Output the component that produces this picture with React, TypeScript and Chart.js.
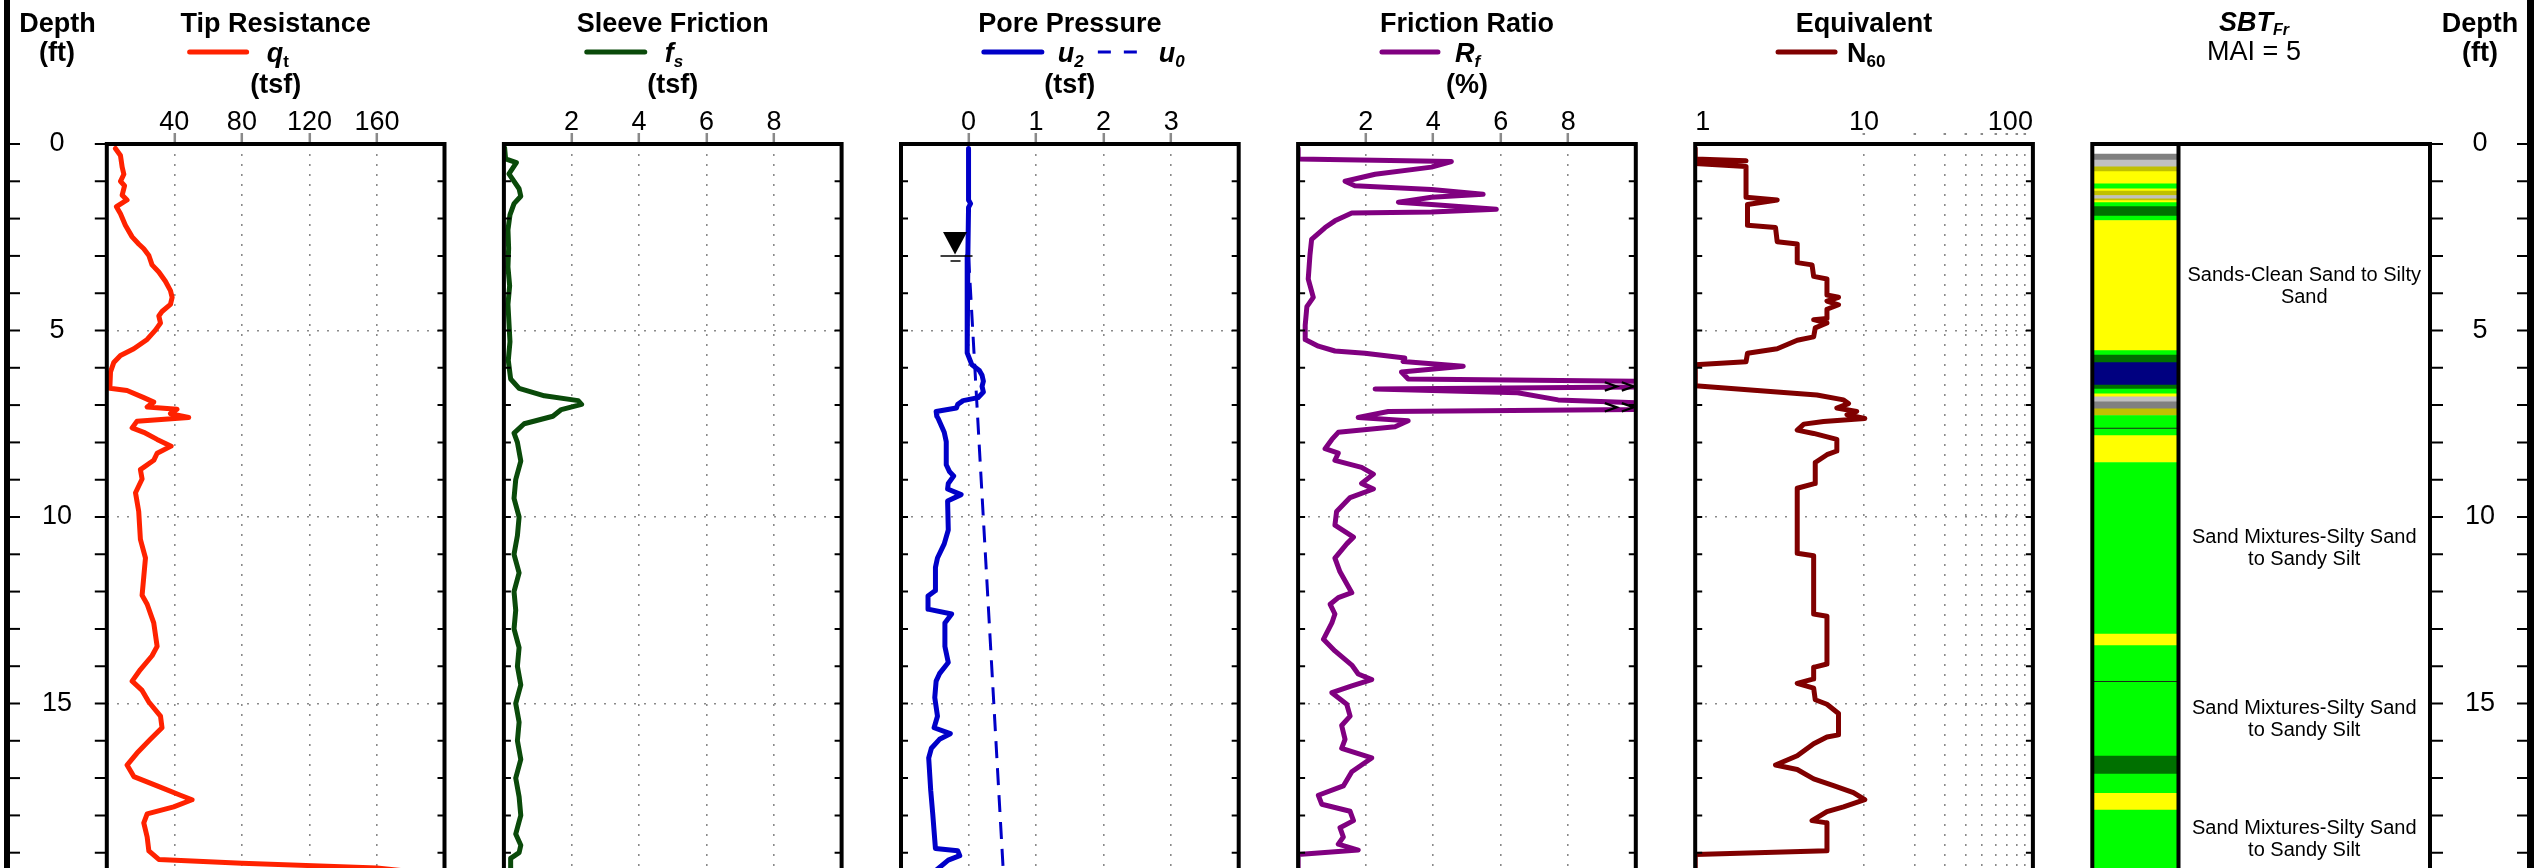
import React, { useEffect, useRef } from 'react';
import { Chart, registerables } from 'chart.js';

Chart.register(...registerables);

// ---------------- data: [depth (ft), value] ----------------
const depthLabels = [0, 5, 10, 15];
const depthGrid = [5, 10, 15];

const qtProfile: [number, number][] = [
  [0.12, 5.1], [0.31, 8.1], [0.62, 9.1], [0.81, 10.1], [1.0, 8.1], [1.12, 10.5], [1.37, 9.1], [1.5, 12.0],
  [1.68, 5.7], [1.87, 8.1], [2.18, 11.0], [2.49, 15.0], [2.68, 18.9], [2.81, 21.9], [2.99, 24.9], [3.24, 26.8],
  [3.43, 30.8], [3.68, 34.7], [3.93, 37.7], [4.11, 38.7], [4.3, 37.7], [4.49, 32.7], [4.61, 30.8], [4.8, 31.8],
  [4.99, 28.8], [5.24, 23.9], [5.49, 16.0], [5.67, 8.1], [5.86, 4.1], [6.11, 2.2], [6.55, 1.8], [6.61, 12.0],
  [6.8, 21.9], [6.92, 27.8], [7.05, 23.9], [7.11, 41.6], [7.23, 37.7], [7.33, 48.5], [7.43, 17.9], [7.61, 15.0],
  [7.73, 21.9], [7.92, 29.8], [8.1, 38.1], [8.29, 29.8], [8.48, 27.8], [8.73, 19.9], [8.98, 20.9], [9.35, 17.0],
  [9.85, 18.9], [10.6, 19.9], [11.1, 22.9], [11.6, 21.9], [12.1, 20.9], [12.34, 23.9], [12.84, 27.8], [13.47, 29.8],
  [13.72, 26.8], [14.09, 19.9], [14.4, 15.0], [14.65, 20.9], [14.96, 24.9], [15.34, 31.8], [15.65, 32.7], [15.96, 25.8],
  [16.33, 17.9], [16.65, 12.0], [16.96, 16.0], [17.21, 29.8], [17.46, 43.6], [17.58, 50.5], [17.77, 39.6], [17.96, 23.9],
  [18.2, 21.9], [18.58, 23.9], [18.95, 24.9], [19.18, 30.8], [19.28, 80], [19.41, 160], [19.6, 200],
];

const fsProfile: [number, number][] = [
  [0.1, 0.02], [0.4, 0.05], [0.5, 0.37], [0.8, 0.15], [1.2, 0.45], [1.4, 0.5], [1.6, 0.3], [1.9, 0.18],
  [2.3, 0.12], [2.8, 0.14], [3.3, 0.12], [3.8, 0.17], [4.3, 0.12], [4.8, 0.15], [5.3, 0.18], [5.8, 0.13],
  [6.3, 0.2], [6.55, 0.45], [6.75, 1.2], [6.88, 2.2], [6.98, 2.3], [7.12, 1.7], [7.3, 1.45], [7.5, 0.6],
  [7.75, 0.3], [8.0, 0.4], [8.5, 0.5], [9.0, 0.35], [9.5, 0.3], [10.0, 0.45], [10.5, 0.4], [11.0, 0.3],
  [11.5, 0.45], [12.0, 0.3], [12.5, 0.35], [13.0, 0.3], [13.5, 0.45], [14.0, 0.4], [14.5, 0.5], [15.0, 0.35],
  [15.5, 0.45], [16.0, 0.4], [16.5, 0.5], [17.0, 0.35], [17.5, 0.45], [18.0, 0.5], [18.5, 0.35], [18.8, 0.5],
  [19.0, 0.45], [19.15, 0.2], [19.5, 0.2],
];

const u2Profile: [number, number][] = [
  [0.12, 0], [1.5, 0.0], [1.6, 0.03], [1.7, 0.0], [3.0, -0.01], [5.0, -0.02], [5.6, -0.02], [5.92, 0.05],
  [6.07, 0.16], [6.2, 0.2], [6.36, 0.22], [6.5, 0.2], [6.65, 0.22], [6.8, 0.14], [6.88, -0.08], [6.98, -0.16],
  [7.08, -0.18], [7.17, -0.48], [7.3, -0.47], [7.36, -0.45], [7.73, -0.36], [7.98, -0.33], [8.6, -0.33], [8.79, -0.28],
  [8.9, -0.22], [9.1, -0.3], [9.25, -0.31], [9.4, -0.11], [9.57, -0.31], [10.35, -0.3], [10.72, -0.36], [11.1, -0.46],
  [11.35, -0.49], [11.97, -0.49], [12.12, -0.6], [12.47, -0.6], [12.6, -0.25], [12.84, -0.35], [13.47, -0.35], [13.9, -0.3],
  [14.2, -0.43], [14.4, -0.48], [14.84, -0.5], [15.34, -0.46], [15.65, -0.51], [15.81, -0.27], [15.96, -0.43], [16.2, -0.55],
  [16.46, -0.59], [17.33, -0.56], [17.96, -0.53], [18.89, -0.49], [18.95, -0.16], [19.08, -0.13], [19.2, -0.3], [19.5, -0.5],
];

const u0Profile: [number, number][] = [[3.0, 0], [20, 0.53]];

const rfProfile: [number, number][] = [
  [0.12, 0], [0.4, 0], [0.47, 4.54], [0.62, 3.95], [0.81, 2.28], [1.0, 1.39], [1.12, 1.68], [1.22, 3.95],
  [1.35, 5.48], [1.43, 3.95], [1.56, 2.97], [1.62, 3.95], [1.75, 5.87], [1.82, 3.95], [1.85, 1.59], [2.06, 1.09],
  [2.24, 0.8], [2.56, 0.4], [2.99, 0.35], [3.62, 0.3], [4.11, 0.45], [4.36, 0.26], [4.86, 0.21], [5.24, 0.21],
  [5.42, 0.6], [5.55, 1.09], [5.61, 1.98], [5.74, 3.16], [5.83, 3.11], [5.96, 4.89], [6.11, 3.06], [6.3, 3.26],
  [6.38, 12], [6.5, 12], [6.57, 2.28], [6.67, 6.5], [6.86, 7.7], [7.0, 12], [7.1, 12], [7.17, 2.67],
  [7.33, 1.78], [7.42, 3.26], [7.58, 2.87], [7.73, 1.19], [7.92, 1.0], [8.17, 0.8], [8.29, 1.19], [8.48, 1.09],
  [8.67, 1.88], [8.85, 2.23], [9.1, 1.88], [9.25, 2.23], [9.48, 1.54], [9.85, 1.14], [10.22, 1.09], [10.54, 1.64],
  [10.72, 1.44], [11.1, 1.09], [11.47, 1.24], [12.03, 1.59], [12.16, 1.19], [12.34, 0.95], [12.6, 1.09], [12.84, 1.0],
  [13.28, 0.75], [13.59, 1.09], [13.97, 1.59], [14.21, 1.78], [14.36, 2.18], [14.53, 1.59], [14.71, 1.0], [15.02, 1.44],
  [15.34, 1.54], [15.59, 1.29], [15.96, 1.39], [16.2, 1.29], [16.46, 2.18], [16.83, 1.59], [17.21, 1.34], [17.46, 0.6],
  [17.7, 0.7], [17.89, 1.54], [18.14, 1.64], [18.33, 1.24], [18.58, 1.34], [18.77, 1.19], [18.93, 1.78], [19.05, 0],
  [19.5, 0],
];

const n60Profile: [number, number][] = [
  [0.12, 1], [0.4, 1], [0.45, 2.0], [0.52, 1], [0.6, 2.0], [1.43, 2.0], [1.5, 3.06], [1.62, 2.04],
  [2.18, 2.04], [2.24, 2.99], [2.62, 3.06], [2.68, 4.02], [3.18, 4.02], [3.24, 4.92], [3.55, 5.03], [3.62, 6.03],
  [4.05, 6.03], [4.11, 7.06], [4.21, 6.03], [4.31, 7.06], [4.43, 6.03], [4.68, 6.03], [4.71, 5.03], [4.8, 6.03],
  [4.93, 5.14], [5.17, 5.03], [5.26, 4.02], [5.49, 3.06], [5.61, 2.04], [5.84, 2.0], [5.92, 1], [6.48, 1],
  [6.61, 2.33], [6.73, 5.26], [6.86, 7.56], [6.96, 8.09], [7.08, 6.9], [7.17, 9.05], [7.26, 7.92], [7.36, 10.1],
  [7.44, 5.76], [7.51, 4.4], [7.67, 4.02], [7.76, 5.03], [7.92, 6.9], [8.23, 6.9], [8.33, 6.03], [8.54, 5.14],
  [9.1, 5.14], [9.23, 4.02], [10.97, 4.02], [11.04, 5.03], [12.6, 5.03], [12.66, 6.03], [13.94, 6.03], [14.03, 5.03],
  [14.34, 5.03], [14.46, 4.02], [14.59, 5.03], [14.9, 5.14], [15.02, 6.03], [15.27, 7.06], [15.84, 7.06], [15.9, 6.03],
  [16.08, 5.03], [16.4, 4.02], [16.65, 2.99], [16.77, 4.02], [17.02, 5.03], [17.2, 6.6], [17.39, 8.65], [17.58, 10.1],
  [17.77, 7.56], [17.9, 6.03], [18.14, 4.92], [18.2, 6.03], [18.95, 6.03], [19.05, 1], [19.5, 1],
];

const waterTableDepth = 3.0;
const waterTableMarkerU = -0.2;
const rfOffScaleDepths = [6.5, 7.06];

const qtTicks = [0, 40, 80, 120, 160, 200];
const qtTickLabels = [40, 80, 120, 160];
const fsTicks = [0, 2, 4, 6, 8, 10];
const fsTickLabels = [2, 4, 6, 8];
const uTicks = [-1, 0, 1, 2, 3, 4];
const uTickLabels = [0, 1, 2, 3];
const rfTicks = [0, 2, 4, 6, 8, 10];
const rfTickLabels = [2, 4, 6, 8];
const n60Ticks = [1, 10, 20, 30, 40, 50, 60, 70, 80, 90, 100];
const n60TickLabels = [1, 10, 100];
const n60Grid = [10, 20, 30, 40, 50, 60, 70, 80, 90];

// SBT layers: [top, bottom, zone]
const sbtLayers: [number, number, string][] = [
  [0.27, 0.43, 'gray'], [0.43, 0.61, 'lightgray'], [0.61, 0.74, 'olive'], [0.74, 1.07, 'yellow'],
  [1.07, 1.2, 'lime'], [1.2, 1.26, 'yellow'], [1.26, 1.38, 'olive'], [1.38, 1.47, 'lightgray'],
  [1.47, 1.52, 'olive'], [1.52, 1.57, 'yellow'], [1.57, 1.68, 'lime'], [1.68, 1.93, 'darkgreen'],
  [1.93, 2.05, 'lime'], [2.05, 5.54, 'yellow'], [5.54, 5.66, 'lime'], [5.66, 5.86, 'darkgreen'],
  [5.86, 6.46, 'navy'], [6.46, 6.57, 'darkgreen'], [6.57, 6.7, 'lime'], [6.7, 6.78, 'yellow'],
  [6.78, 6.91, 'lightgray'], [6.91, 7.1, 'gray'], [7.1, 7.28, 'olive'], [7.28, 7.82, 'lime'],
  [7.82, 8.54, 'yellow'], [8.54, 13.14, 'lime'], [13.14, 13.45, 'yellow'], [13.45, 16.41, 'lime'],
  [16.41, 16.89, 'darkgreen'], [16.89, 17.41, 'lime'], [17.41, 17.86, 'yellow'], [17.86, 19.6, 'lime'],
];
const sbtBreaks = [7.62, 14.41];
const sbtLabelDepths = [3.83, 10.85, 15.43, 18.65];
const sbtLabelLines = [
  ['Sands-Clean Sand to Silty', 'Sand'],
  ['Sand Mixtures-Silty Sand', 'to Sandy Silt'],
  ['Sand Mixtures-Silty Sand', 'to Sandy Silt'],
  ['Sand Mixtures-Silty Sand', 'to Sandy Silt'],
];
const zoneColors: Record<string, string> = {
  gray: '#808080', lightgray: '#c0c0c0', olive: '#c0c000', yellow: '#ffff00',
  lime: '#00ff00', darkgreen: '#007000', navy: '#000080',
};

// ---------------- layout / style ----------------
const W = 2534;
const H = 868;
const TOP = 144;
const PX_PER_FT = 37.3;
const DEPTH_MAX = (H - TOP) / PX_PER_FT;
const PANEL_X0 = 106.8;
const PANEL_STEP = 397.1;
const PANEL_W = 337.7;
const SBT_COL_RIGHT = 2178.5;
const FONT = '"Liberation Sans", Arial, Helvetica, sans-serif';
const GRID = '#8a8a8a';
const NONE = 'rgba(0,0,0,0)';
const TITLE_SIZE = 27;
const SUB_SIZE = 17;
const TICK_SIZE = 27;
const LINE_W = 5;
const BOX_W = 4;

Chart.defaults.font.family = FONT;

const panelLeft = (i: number) => PANEL_X0 + i * PANEL_STEP;

type Part = { t: string; size: number; bold?: boolean; italic?: boolean; dy?: number };
const fontOf = (p: Part) => `${p.italic ? 'italic ' : ''}${p.bold ? 'bold ' : ''}${p.size}px ${FONT}`;

function drawRich(ctx: CanvasRenderingContext2D, x: number, y: number, parts: Part[], align: 'left' | 'center') {
  ctx.save();
  ctx.textAlign = 'left';
  ctx.textBaseline = 'alphabetic';
  ctx.fillStyle = '#000';
  const widths = parts.map((p) => {
    ctx.font = fontOf(p);
    return ctx.measureText(p.t).width;
  });
  const total = widths.reduce((s, w) => s + w, 0);
  let cx = align === 'center' ? x - total / 2 : x;
  parts.forEach((p, i) => {
    ctx.font = fontOf(p);
    ctx.fillText(p.t, cx, y + (p.dy || 0));
    cx += widths[i];
  });
  ctx.restore();
}

const B = (t: string): Part => ({ t, size: TITLE_SIZE, bold: true });
const BI = (t: string): Part => ({ t, size: TITLE_SIZE, bold: true, italic: true });
const SUB = (t: string, italic = true): Part => ({ t, size: SUB_SIZE, bold: true, italic, dy: 5 });

type LegendItem = { color: string; dash?: number[]; width?: number; x0: number; x1: number; labelX: number; label: Part[] };
type Series = { pts: [number, number][]; color: string; width: number; dash?: number[] };
type PanelSpec = {
  title: string;
  unit?: string;
  legend: LegendItem[];
  log?: boolean;
  xMin: number;
  xMax: number;
  ticks: number[];
  labels: number[];
  grid: number[];
  series: Series[];
  outerLeft?: boolean;
  extra?: (chart: any) => void;
};

const QT_C = '#ff2200';
const FS_C = '#0a4a0a';
const U_C = '#0000c8';
const RF_C = '#800080';
const N_C = '#800000';

function drawLeftAxis(chart: any) {
  const { ctx } = chart;
  const ys = chart.scales.y;
  ctx.save();
  ctx.fillStyle = '#000';
  ctx.fillRect(4, 0, 6, H);
  ctx.strokeStyle = '#000';
  ctx.lineWidth = 2;
  for (let d = 0; d <= DEPTH_MAX; d++) {
    const y = ys.getPixelForValue(d);
    ctx.beginPath();
    ctx.moveTo(10, y);
    ctx.lineTo(20, y);
    ctx.stroke();
  }
  ctx.font = `${TICK_SIZE}px ${FONT}`;
  ctx.textAlign = 'center';
  ctx.textBaseline = 'middle';
  depthLabels.forEach((d) => ctx.fillText(String(d), 57, ys.getPixelForValue(d)));
  ctx.restore();
  drawRich(ctx, 57.5, 32, [B('Depth')], 'center');
  drawRich(ctx, 57, 61, [B('(ft)')], 'center');
}

function drawWaterTable(chart: any) {
  const { ctx } = chart;
  const x = chart.scales.x.getPixelForValue(waterTableMarkerU);
  const y = chart.scales.y.getPixelForValue(waterTableDepth);
  ctx.save();
  ctx.fillStyle = '#000';
  ctx.beginPath();
  ctx.moveTo(x - 12, y - 24);
  ctx.lineTo(x + 12, y - 24);
  ctx.lineTo(x, y - 1.5);
  ctx.closePath();
  ctx.fill();
  ctx.strokeStyle = '#000';
  ctx.lineWidth = 1.5;
  ctx.beginPath();
  ctx.moveTo(x - 14.5, y);
  ctx.lineTo(x + 17.5, y);
  ctx.moveTo(x - 4.5, y + 5);
  ctx.lineTo(x + 5.5, y + 5);
  ctx.stroke();
  ctx.restore();
}

function drawOffScale(chart: any) {
  const { ctx, chartArea: a } = chart;
  ctx.save();
  ctx.strokeStyle = '#000';
  ctx.lineWidth = 2.2;
  rfOffScaleDepths.forEach((d) => {
    const y = chart.scales.y.getPixelForValue(d);
    [31, 14].forEach((off) => {
      const x0 = a.right - off;
      ctx.beginPath();
      ctx.moveTo(x0, y - 4.2);
      ctx.lineTo(x0 + 12, y);
      ctx.lineTo(x0, y + 4.2);
      ctx.stroke();
    });
  });
  ctx.restore();
}

const panelSpecs: PanelSpec[] = [
  {
    title: 'Tip Resistance', unit: '(tsf)',
    legend: [{ color: QT_C, x0: -86, x1: -29, labelX: -9, label: [BI('q'), SUB('t', false)] }],
    xMin: 0, xMax: 200, ticks: qtTicks, labels: qtTickLabels, grid: qtTickLabels,
    series: [{ pts: qtProfile, color: QT_C, width: LINE_W }],
    outerLeft: true, extra: drawLeftAxis,
  },
  {
    title: 'Sleeve Friction', unit: '(tsf)',
    legend: [{ color: FS_C, x0: -86, x1: -28, labelX: -8, label: [BI('f'), SUB('s')] }],
    xMin: 0, xMax: 10, ticks: fsTicks, labels: fsTickLabels, grid: fsTickLabels,
    series: [{ pts: fsProfile, color: FS_C, width: LINE_W }],
  },
  {
    title: 'Pore Pressure', unit: '(tsf)',
    legend: [
      { color: U_C, x0: -86, x1: -28, labelX: -12, label: [BI('u'), SUB('2')] },
      { color: U_C, dash: [13, 13], width: 3, x0: 28, x1: 80, labelX: 89, label: [BI('u'), SUB('0')] },
    ],
    xMin: -1, xMax: 4, ticks: uTicks, labels: uTickLabels, grid: uTickLabels,
    series: [
      { pts: u2Profile, color: U_C, width: LINE_W },
      { pts: u0Profile, color: U_C, width: 3, dash: [17, 10] },
    ],
    extra: drawWaterTable,
  },
  {
    title: 'Friction Ratio', unit: '(%)',
    legend: [{ color: RF_C, x0: -85, x1: -29, labelX: -12, label: [BI('R'), SUB('f')] }],
    xMin: 0, xMax: 10, ticks: rfTicks, labels: rfTickLabels, grid: rfTickLabels,
    series: [{ pts: rfProfile, color: RF_C, width: LINE_W }],
    extra: drawOffScale,
  },
  {
    title: 'Equivalent',
    legend: [{ color: N_C, x0: -86, x1: -29, labelX: -17, label: [B('N'), SUB('60', false)] }],
    log: true, xMin: 1, xMax: 100, ticks: n60Ticks, labels: n60TickLabels, grid: n60Grid,
    series: [{ pts: n60Profile, color: N_C, width: LINE_W }],
  },
];

function drawHeader(ctx: CanvasRenderingContext2D, cx: number, spec: PanelSpec) {
  drawRich(ctx, cx, 32, [B(spec.title)], 'center');
  spec.legend.forEach((it) => {
    ctx.save();
    ctx.strokeStyle = it.color;
    ctx.lineWidth = it.width || 5;
    ctx.lineCap = it.dash ? 'butt' : 'round';
    ctx.setLineDash(it.dash || []);
    ctx.beginPath();
    ctx.moveTo(cx + it.x0, 52);
    ctx.lineTo(cx + it.x1, 52);
    ctx.stroke();
    ctx.restore();
    drawRich(ctx, cx + it.labelX, 62, it.label, 'left');
  });
  if (spec.unit) drawRich(ctx, cx, 93, [B(spec.unit)], 'center');
}

function makePanelPlugin(i: number, spec: PanelSpec) {
  return {
    id: 'panelDecor' + i,
    afterDraw(chart: any) {
      const { ctx, chartArea: a } = chart;
      const ys = chart.scales.y;
      ctx.save();
      ctx.strokeStyle = '#000';
      ctx.lineWidth = 2;
      for (let d = 0; d <= DEPTH_MAX; d++) {
        const y = ys.getPixelForValue(d);
        ctx.beginPath();
        if (spec.outerLeft) {
          ctx.moveTo(a.left - 12, y);
          ctx.lineTo(a.left, y);
        } else {
          ctx.moveTo(a.left, y);
          ctx.lineTo(a.left + 7, y);
        }
        ctx.moveTo(a.right - 7, y);
        ctx.lineTo(a.right, y);
        ctx.stroke();
      }
      ctx.lineWidth = BOX_W;
      ctx.beginPath();
      ctx.moveTo(a.left, H + 10);
      ctx.lineTo(a.left, a.top);
      ctx.lineTo(a.right, a.top);
      ctx.lineTo(a.right, H + 10);
      ctx.stroke();
      ctx.restore();
      if (spec.extra) spec.extra(chart);
      drawHeader(ctx, (a.left + a.right) / 2, spec);
    },
  };
}

function lineConfig(i: number, spec: PanelSpec): any {
  const left = panelLeft(i);
  const right = left + PANEL_W;
  const gridColor = (c: any) => (c && c.tick && spec.grid.includes(c.tick.value) ? GRID : NONE);
  return {
    type: 'line',
    data: {
      datasets: spec.series.map((s) => ({
        data: s.pts.map(([d, v]) => ({ x: v, y: d })),
        borderColor: s.color,
        borderWidth: s.width,
        borderDash: s.dash || [],
        pointRadius: 0,
        tension: 0,
        fill: false,
        borderCapStyle: s.dash ? 'butt' : 'round',
        borderJoinStyle: 'round',
      })),
    },
    options: {
      responsive: false,
      animation: false,
      events: [],
      layout: { padding: { left, right: W - right, top: 0, bottom: 0 } },
      plugins: { legend: { display: false }, tooltip: { enabled: false }, title: { display: false } },
      scales: {
        x: {
          type: spec.log ? 'logarithmic' : 'linear',
          position: 'top',
          min: spec.xMin,
          max: spec.xMax,
          afterBuildTicks: (s: any) => {
            s.ticks = spec.ticks.map((v) => ({ value: v }));
          },
          afterFit: (s: any) => {
            s.height = TOP;
          },
          ticks: {
            autoSkip: false,
            maxRotation: 0,
            minRotation: 0,
            padding: -6,
            color: '#000',
            font: { family: FONT, size: TICK_SIZE },
            align: spec.log ? 'inner' : 'center',
            callback: (v: any) => (spec.labels.includes(Number(v)) ? String(v) : ''),
          },
          grid: {
            color: gridColor,
            tickColor: gridColor,
            lineWidth: 1.6,
            tickWidth: 2.5,
            tickLength: 11,
            tickBorderDash: spec.log ? [2, 8] : [],
          },
          border: { display: false, dash: [2, 8] },
        },
        y: {
          type: 'linear',
          reverse: true,
          min: 0,
          max: DEPTH_MAX,
          afterBuildTicks: (s: any) => {
            s.ticks = depthGrid.map((v) => ({ value: v }));
          },
          afterFit: (s: any) => {
            s.width = 0;
          },
          ticks: { display: false },
          grid: { color: GRID, lineWidth: 1.6, drawTicks: false },
          border: { display: false, dash: [2, 8] },
        },
      },
    },
    plugins: [makePanelPlugin(i, spec)],
  };
}

const sbtPlugin = {
  id: 'sbtDecor',
  afterDraw(chart: any) {
    const { ctx, chartArea: a } = chart;
    const ys = chart.scales.y;
    const boxRight = panelLeft(5) + PANEL_W;
    ctx.save();
    ctx.strokeStyle = '#1a2a1a';
    ctx.lineWidth = 1.2;
    sbtBreaks.forEach((d) => {
      const y = ys.getPixelForValue(d);
      ctx.beginPath();
      ctx.moveTo(a.left, y);
      ctx.lineTo(a.right, y);
      ctx.stroke();
    });
    ctx.fillStyle = '#000';
    ctx.font = `20px ${FONT}`;
    ctx.textAlign = 'center';
    ctx.textBaseline = 'middle';
    const lx = (a.right + boxRight) / 2;
    sbtLabelDepths.forEach((d, i) => {
      const y = ys.getPixelForValue(d);
      const lines = sbtLabelLines[i];
      lines.forEach((t, k) => ctx.fillText(t, lx, y + (k - (lines.length - 1) / 2) * 22));
    });
    ctx.strokeStyle = '#000';
    ctx.lineWidth = BOX_W;
    ctx.beginPath();
    ctx.moveTo(a.left, H + 10);
    ctx.lineTo(a.left, a.top);
    ctx.lineTo(boxRight, a.top);
    ctx.lineTo(boxRight, H + 10);
    ctx.moveTo(a.right, a.top);
    ctx.lineTo(a.right, H + 10);
    ctx.stroke();
    // right depth axis
    ctx.fillRect(2527, 0, 7, H);
    ctx.lineWidth = 2;
    for (let d = 0; d <= DEPTH_MAX; d++) {
      const y = ys.getPixelForValue(d);
      ctx.beginPath();
      ctx.moveTo(boxRight, y);
      ctx.lineTo(boxRight + 13, y);
      ctx.moveTo(2517, y);
      ctx.lineTo(2527, y);
      ctx.stroke();
    }
    ctx.font = `${TICK_SIZE}px ${FONT}`;
    depthLabels.forEach((d) => ctx.fillText(String(d), 2480, ys.getPixelForValue(d)));
    ctx.restore();
    drawRich(ctx, 2480, 32, [B('Depth')], 'center');
    drawRich(ctx, 2480, 61, [B('(ft)')], 'center');
    drawRich(ctx, 2254, 31, [BI('SBT'), { t: 'Fr', size: 16, bold: true, italic: true, dy: 4 }], 'center');
    drawRich(ctx, 2254, 60, [{ t: 'MAI = 5', size: TITLE_SIZE }], 'center');
  },
};

function sbtConfig(): any {
  return {
    type: 'bar',
    data: {
      labels: ['SBT'],
      datasets: [
        {
          data: sbtLayers.map(([t, b]) => ({ x: 'SBT', y: [t, b] })),
          backgroundColor: sbtLayers.map((l) => zoneColors[l[2]]),
          borderWidth: 0,
          barPercentage: 1,
          categoryPercentage: 1,
        },
      ],
    },
    options: {
      responsive: false,
      animation: false,
      events: [],
      layout: { padding: { left: panelLeft(5), right: W - SBT_COL_RIGHT, top: TOP, bottom: 0 } },
      plugins: { legend: { display: false }, tooltip: { enabled: false } },
      scales: {
        x: { display: false },
        y: { display: false, reverse: true, min: 0, max: DEPTH_MAX },
      },
    },
    plugins: [sbtPlugin],
  };
}

function ChartCanvas({ make }: { make: () => any }) {
  const ref = useRef<HTMLCanvasElement | null>(null);
  useEffect(() => {
    if (!ref.current) return;
    const chart = new Chart(ref.current, make());
    return () => chart.destroy();
  }, []);
  return (
    <canvas
      ref={ref}
      width={W}
      height={H}
      style={{ position: 'absolute', left: 0, top: 0, width: W, height: H, pointerEvents: 'none' }}
    />
  );
}

export default function App() {
  return (
    <div style={{ position: 'absolute', left: 0, top: 0, width: W, height: H, overflow: 'hidden', background: '#fff' }}>
      {panelSpecs.map((s, i) => (
        <ChartCanvas key={i} make={() => lineConfig(i, s)} />
      ))}
      <ChartCanvas make={sbtConfig} />
    </div>
  );
}
